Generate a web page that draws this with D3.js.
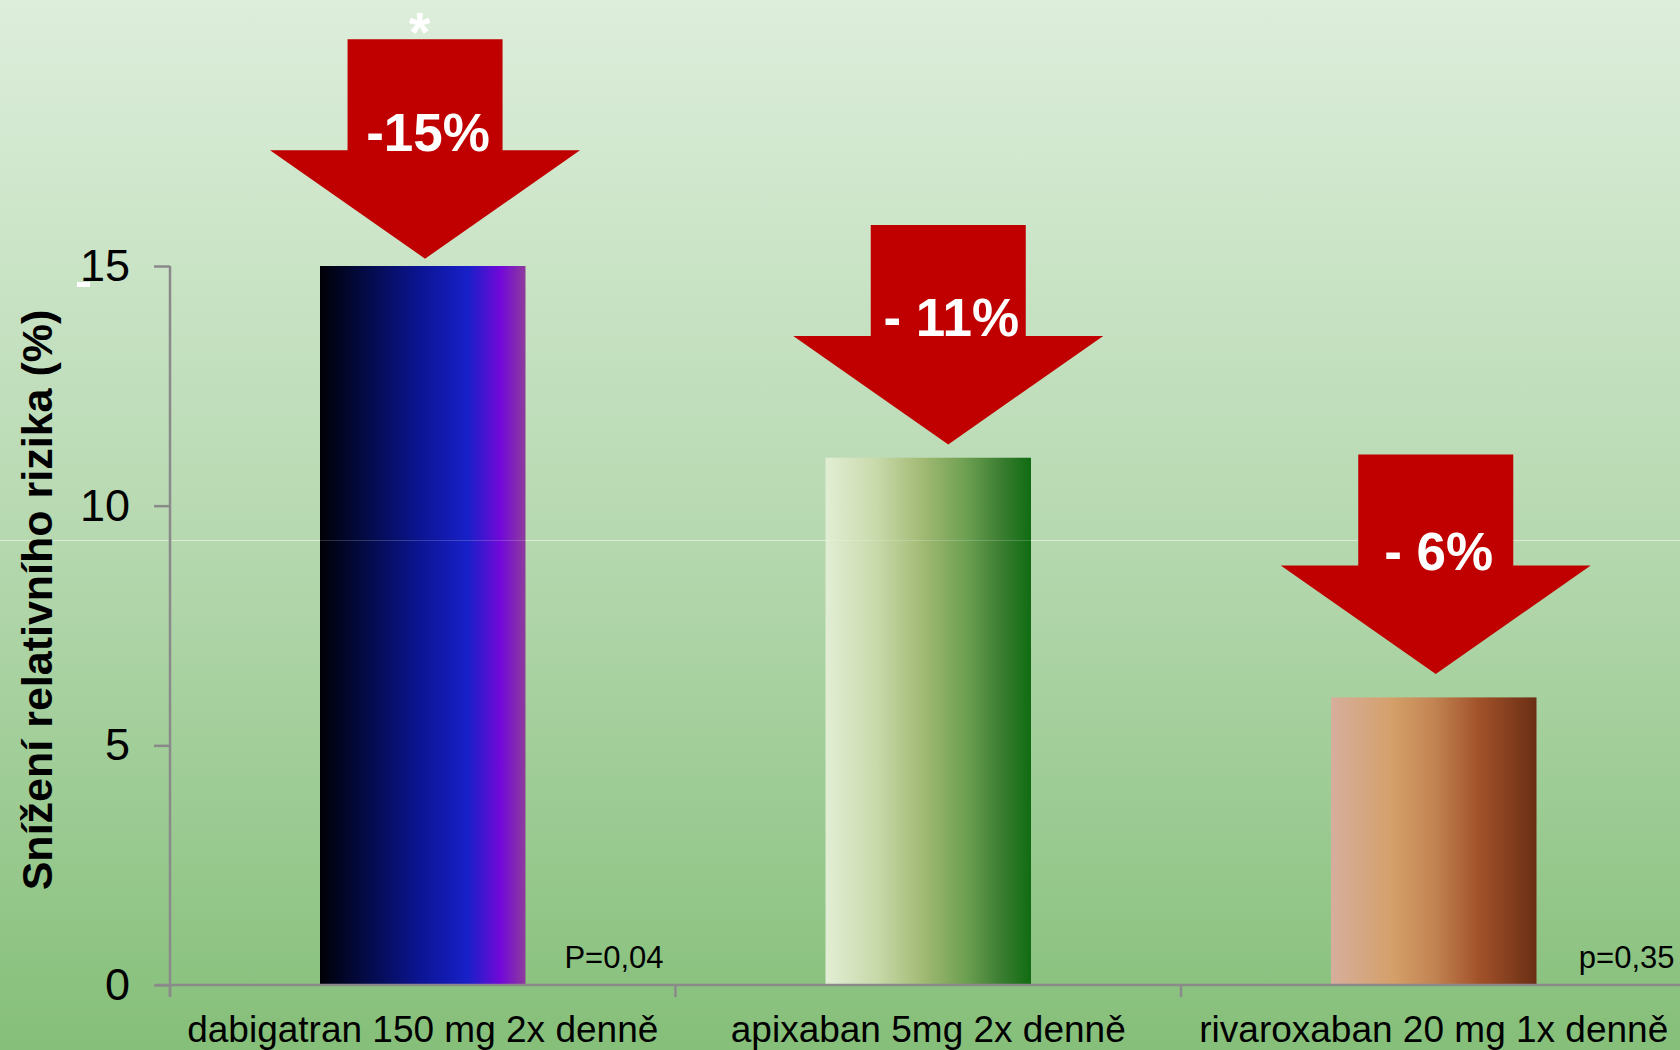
<!DOCTYPE html>
<html>
<head>
<meta charset="utf-8">
<script src="https://cdn.jsdelivr.net/npm/d3@7"></script>
<style>
  html, body { margin: 0; padding: 0; overflow: hidden; }
  svg { display: block; font-family: "Liberation Sans", Arial, sans-serif; }
</style>
</head>
<body>
<svg id="chart" width="1680" height="1050"></svg>
<script>
// ---------------- data ----------------
const categories = ["dabigatran 150 mg 2x denně", "apixaban 5mg 2x denně", "rivaroxaban 20 mg 1x denně"];
const values = [15, 11, 6];
const reductionLabels = ["-15%", "- 11%", "- 6%"];
const pValueLabels = ["P=0,04", "", "p=0,35"];
const significanceMarks = ["*", "", ""];
const yTicks = [0, 5, 10, 15];
const yTitle = "Snížení relativního rizika (%)";

// ---------------- styles / layout ----------------
const barGradients = [
  [[0, "#000006"], [0.25, "#040c4e"], [0.5, "#0c1596"], [0.72, "#1820c8"], [0.88, "#7208d8"], [1, "#8e3c9c"]],
  [[0, "#e2eed4"], [0.25, "#c8d9aa"], [0.48, "#a0b972"], [0.68, "#6ea052"], [0.85, "#3c7e32"], [1, "#106c12"]],
  [[0, "#d6ae9c"], [0.3, "#d4a06a"], [0.5, "#c28452"], [0.72, "#a2522a"], [1, "#6a2e14"]]
];
const arrowDx = [2.3, 20, 2];        // px offset of arrow from bar centre
const arrowGap = [7.3, 13.3, 23.4];   // px gap between arrow tip and bar top
const arrowLabelDy = [1, 0, 4];

const svg = d3.select("#chart");
const W = 1680, H = 1050;
const defs = svg.append("defs");

const bg = defs.append("linearGradient").attr("id", "bg").attr("x1", 0).attr("y1", 0).attr("x2", 0).attr("y2", 1);
bg.append("stop").attr("offset", 0).attr("stop-color", "#ddeedb");
bg.append("stop").attr("offset", 0.5).attr("stop-color", "#b7d9b1");
bg.append("stop").attr("offset", 1).attr("stop-color", "#85bf79");
svg.append("rect").attr("width", W).attr("height", H).attr("fill", "url(#bg)");

barGradients.forEach((stops, i) => {
  const g = defs.append("linearGradient").attr("id", "bar" + i).attr("x1", 0).attr("y1", 0).attr("x2", 1).attr("y2", 0);
  stops.forEach(s => g.append("stop").attr("offset", s[0]).attr("stop-color", s[1]));
});

const x = d3.scaleBand().domain(categories).range([170, 1686.5]).paddingInner(0.5935).paddingOuter(0.5935 / 2);
const y = d3.scaleLinear().domain([0, 15]).range([985, 266]);
const step = x.step();
const bandStart = c => x(c) - x.paddingOuter() * step;

// faint horizontal line across background
svg.append("line").attr("x1", 0).attr("x2", W).attr("y1", 540.5).attr("y2", 540.5)
  .attr("stroke", "rgba(255,255,255,0.4)").attr("stroke-width", 1);

// bars
svg.append("g").selectAll("rect").data(values).join("rect")
  .attr("x", (d, i) => x(categories[i]))
  .attr("y", d => y(d))
  .attr("width", x.bandwidth())
  .attr("height", d => y(0) - y(d))
  .attr("fill", (d, i) => `url(#bar${i})`);

// faint line over bars too
svg.append("line").attr("x1", 0).attr("x2", W).attr("y1", 540.5).attr("y2", 540.5)
  .attr("stroke", "rgba(255,255,255,0.18)").attr("stroke-width", 1);

// y axis
const yAxis = svg.append("g").attr("transform", "translate(170,0)")
  .call(d3.axisLeft(y).tickValues(yTicks).tickSize(16).tickSizeOuter(0).tickPadding(24));
yAxis.select(".domain").attr("stroke", "#8a8a8a").attr("stroke-width", 2.5)
  .attr("d", `M0,${y(15)}V${y(0) + 12}`);
yAxis.selectAll(".tick line").attr("stroke", "#8a8a8a").attr("stroke-width", 2.5);
yAxis.selectAll(".tick text").attr("fill", "#000").attr("font-size", 45)
  .attr("font-family", "'Liberation Sans', Arial, sans-serif");

// small white mark near "15"
svg.append("rect").attr("x", 77).attr("y", y(15) + 16).attr("width", 13).attr("height", 5).attr("fill", "#ffffff");

// x axis
const xAxisG = svg.append("g").attr("transform", `translate(0,${y(0)})`);
xAxisG.append("line").attr("x1", 155).attr("x2", W).attr("y1", 0).attr("y2", 0)
  .attr("stroke", "#8a8a8a").attr("stroke-width", 2.5);
xAxisG.selectAll("line.bt").data(categories).join("line").attr("class", "bt")
  .attr("x1", c => bandStart(c)).attr("x2", c => bandStart(c)).attr("y1", 0).attr("y2", 12)
  .attr("stroke", "#8a8a8a").attr("stroke-width", 2.5);
const xLab = svg.append("g").attr("transform", `translate(0,${y(0)})`)
  .call(d3.axisBottom(x).tickSize(0).tickSizeOuter(0).tickPadding(31));
xLab.select(".domain").remove();
xLab.selectAll(".tick text").attr("fill", "#000").attr("font-size", 37)
  .attr("font-family", "'Liberation Sans', Arial, sans-serif");

// y title
svg.append("text")
  .attr("transform", `translate(52,${(312 + 888) / 2}) rotate(-90)`)
  .attr("text-anchor", "middle").attr("font-weight", "bold").attr("font-size", 43).attr("fill", "#000")
  .text(yTitle);

// p-value labels
svg.append("g").selectAll("text").data(pValueLabels).join("text")
  .attr("x", (d, i) => bandStart(categories[i]) + step - 12)
  .attr("y", y(0) - 17)
  .attr("text-anchor", "end").attr("font-size", 31).attr("fill", "#000")
  .text(d => d);

// arrows
const shaftW = 155, shaftH = 111, headW = 310, headH = 108.5;
const arrowG = svg.append("g");
values.forEach((v, i) => {
  const cx = x(categories[i]) + x.bandwidth() / 2 + arrowDx[i];
  const tip = y(v) - arrowGap[i];
  const headTop = tip - headH;
  const top = headTop - shaftH;
  const p = d3.path();
  p.moveTo(cx - shaftW / 2, top);
  p.lineTo(cx + shaftW / 2, top);
  p.lineTo(cx + shaftW / 2, headTop);
  p.lineTo(cx + headW / 2, headTop);
  p.lineTo(cx, tip);
  p.lineTo(cx - headW / 2, headTop);
  p.lineTo(cx - shaftW / 2, headTop);
  p.closePath();
  arrowG.append("path").attr("d", p.toString()).attr("fill", "#c00000");
  arrowG.append("text").attr("x", cx + 3).attr("y", headTop + arrowLabelDy[i])
    .attr("text-anchor", "middle").attr("font-weight", "bold").attr("font-size", 53).attr("fill", "#ffffff")
    .text(reductionLabels[i]);
  if (significanceMarks[i]) {
    arrowG.append("text").attr("x", cx - 5.5).attr("y", top + 12)
      .attr("text-anchor", "middle").attr("font-weight", "bold").attr("font-size", 56).attr("fill", "#ffffff")
      .text(significanceMarks[i]);
  }
});
</script>
</body>
</html>
